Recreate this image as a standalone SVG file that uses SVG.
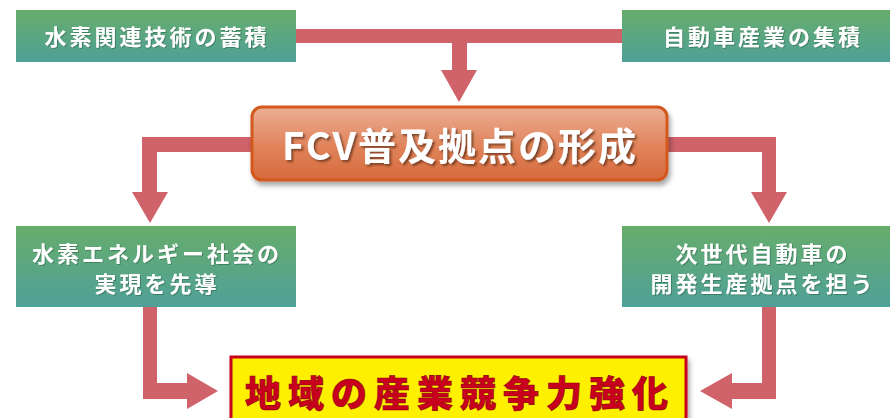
<svg xmlns="http://www.w3.org/2000/svg" width="890" height="418" viewBox="0 0 890 418">
<defs>
<linearGradient id="g" x1="0" y1="0" x2="0" y2="1">
<stop offset="0" stop-color="#67ad6b"/>
<stop offset="1" stop-color="#4fa098"/>
</linearGradient>
<linearGradient id="o" x1="0" y1="0" x2="0" y2="1">
<stop offset="0" stop-color="#ebae93"/>
<stop offset="0.55" stop-color="#e0835a"/>
<stop offset="1" stop-color="#d66a3c"/>
</linearGradient>
<filter id="sh" x="-10%" y="-20%" width="120%" height="150%">
<feDropShadow dx="2" dy="4" stdDeviation="2.5" flood-color="#000" flood-opacity="0.35"/>
</filter>
<filter id="ts" x="-5%" y="-20%" width="110%" height="150%">
<feDropShadow dx="2" dy="2" stdDeviation="1" flood-color="#5a2a10" flood-opacity="0.7"/>
</filter>
<filter id="ts2" x="-5%" y="-20%" width="110%" height="150%">
<feDropShadow dx="1" dy="1" stdDeviation="0.6" flood-color="#1e5a40" flood-opacity="0.5"/>
</filter>
</defs>
<style>
.box{fill:url(#g)}
.wt{font-family:"Noto Sans CJK JP","Noto Sans",sans-serif;font-weight:bold;fill:#fff;text-anchor:middle;dominant-baseline:central}
.s{font-size:22px;letter-spacing:3px}
.arr{fill:#d0626a}
</style>
<g id="connectors" class="arr">
<rect x="296" y="29" width="326" height="14"/>
<rect x="452" y="42" width="15" height="29"/>
<polygon points="441,70 477,70 459,102"/>
<rect x="142" y="137" width="110" height="15"/>
<rect x="142" y="137" width="15" height="56"/>
<polygon points="132,192 168,192 150,223"/>
<rect x="666" y="137" width="110" height="15"/>
<rect x="762" y="137" width="14" height="56"/>
<polygon points="751,192 787,192 769,223"/>
<rect x="143" y="306" width="14" height="93"/>
<rect x="143" y="383" width="45" height="16"/>
<polygon points="187,373 187,409 218,391"/>
<rect x="762" y="306" width="14" height="93"/>
<rect x="731" y="383" width="45" height="16"/>
<polygon points="732,373 732,409 700,391"/>
</g>
<g id="n1">
<rect class="box" x="16" y="10" width="280" height="52"/>
<text class="wt s" x="157" y="35" filter="url(#ts2)">水素関連技術の蓄積</text>
</g>
<g id="n2">
<rect class="box" x="622" y="10" width="270" height="52"/>
<text class="wt s" x="763" y="35" filter="url(#ts2)">自動車産業の集積</text>
</g>
<g id="n3">
<rect x="252" y="107" width="415" height="73" rx="10" fill="url(#o)" stroke="#d2581f" stroke-width="3" filter="url(#sh)"/>
<text class="wt" x="460" y="143" font-size="38" letter-spacing="2" filter="url(#ts)">FCV普及拠点の形成</text>
</g>
<g id="n4">
<rect class="box" x="16" y="226" width="280" height="81"/>
<text class="wt s" x="157" y="252" filter="url(#ts2)">水素エネルギー社会の</text>
<text class="wt s" x="157" y="282" filter="url(#ts2)">実現を先導</text>
</g>
<g id="n5">
<rect class="box" x="622" y="226" width="270" height="81"/>
<text class="wt s" x="763" y="252" filter="url(#ts2)">次世代自動車の</text>
<text class="wt s" x="763" y="282" filter="url(#ts2)">開発生産拠点を担う</text>
</g>
<g id="n6">
<rect x="231" y="357" width="455" height="80" fill="#fff000" stroke="#c8001e" stroke-width="3" filter="url(#sh)"/>
<text x="460" y="391" font-family="Noto Sans CJK JP,Noto Sans,sans-serif" font-weight="900" font-size="36" letter-spacing="7" fill="#c8001e" stroke="#8a0010" stroke-width="0.6" text-anchor="middle" dominant-baseline="central">地域の産業競争力強化</text>
</g>
</svg>
